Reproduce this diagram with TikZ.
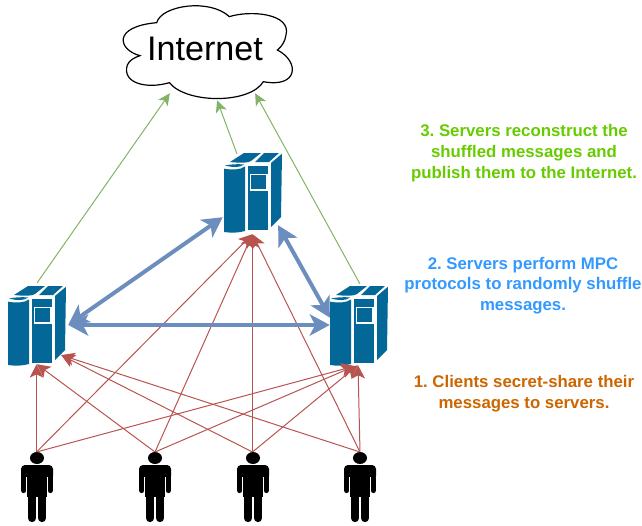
\documentclass[tikz,border=0pt]{standalone}
\usepackage{fontspec}
\setmainfont{Liberation Sans}
\usetikzlibrary{arrows.meta,shapes.geometric}
\definecolor{srvblue}{HTML}{036897}
\definecolor{redl}{HTML}{B85450}
\definecolor{greenl}{HTML}{82B366}
\definecolor{bluel}{HTML}{6C8EBF}
\definecolor{txtgreen}{HTML}{66CC00}
\definecolor{txtblue}{HTML}{3399FF}
\definecolor{txtorange}{HTML}{CC6600}
\tikzset{
  x=.75pt,y=-.75pt,
  redarrow/.style={draw=redl,line width=.75pt,-{Stealth[length=10pt,width=10pt,inset=2.5pt]}},
  greenarrow/.style={draw=greenl,line width=.75pt,-{Stealth[length=9pt,width=8.5pt,inset=2.5pt]}},
  bluearrow/.style={draw=bluel,line width=3pt,{Stealth[length=15pt,width=16pt,inset=4pt]}-{Stealth[length=15pt,width=16pt,inset=4pt]}},
  note/.style={font=\fontsize{12.6pt}{15.6pt}\selectfont\bfseries\frenchspacing,align=center,inner sep=0pt},
  srvbox/.style={inner sep=0pt,minimum width=43.5pt,minimum height=60.75pt},
  port/.style={inner sep=0pt,minimum size=0pt}
}
\newcommand{\serverat}[3]{%
  \node[srvbox] (#1) at (#2+29,#3+40.5) {};
  \begin{scope}[shift={(#2,#3)}]
    \fill[srvblue] (0,16.7) .. controls (8,18) and (16,18) .. (21,14.5) -- (21,79) .. controls (14,81) and (7,81) .. (0,80) -- cycle;
    \fill[srvblue] (24,14) -- (44,14) -- (44,78) -- (24,78) -- cycle;
    \fill[srvblue] (47,11) -- (58,1.7) -- (57,65) -- (47,75) -- cycle;
    \fill[srvblue] (6,10) -- (20,1) -- (37,1) -- (27,9) .. controls (25,11) and (15,11) .. cycle;
    \fill[srvblue] (1,13.5) .. controls (8,12) and (15,12) .. (20,12.5) .. controls (16,16) and (8,15.5) .. cycle;
    \fill[srvblue] (31,10) -- (40,1) -- (55,1) -- (45,10) -- cycle;
    \draw[white,line width=1.1pt] (26.5,22.5) rectangle (43,38);
  \end{scope}}
\newcommand{\personat}[2]{%
  \node[fill=black,ellipse,inner sep=0pt,minimum width=10.5pt,minimum height=9pt] (#1) at (#2,458) {};
  \begin{scope}[shift={(#2,0)}]
    \fill[black,rounded corners=3pt] (-16,465) rectangle (16,480);
    \fill[black] (-10,470) rectangle (10,497);
    \draw[black,line width=3.9pt,line cap=round] (-13.2,472) -- (-13.2,490.5) (13.2,472) -- (13.2,490.5);
    \draw[black,line width=6.2pt,line cap=round] (-5,495) -- (-5,518) (5,495) -- (5,518);
    \draw[white,line width=.5pt] (-10.4,477) -- (-10.4,494) (10.4,477) -- (10.4,494) (0,497) -- (0,522);
  \end{scope}}
\begin{document}
\begin{tikzpicture}
\useasboundingbox (0,0) rectangle (642,525);
% cloud
\begin{scope}[shift={(110,0)},x=.25pt,y=-.25pt]
\filldraw[draw=black,fill=white,line width=.9pt]
  (178,248) .. controls (110,268) and (35,250) .. (52,195)
  .. controls (58,180) and (75,172) .. (90,167)
  .. controls (25,150) and (5,80) .. (140,68)
  .. controls (155,15) and (300,-5) .. (358,50)
  .. controls (420,30) and (545,40) .. (528,105)
  .. controls (525,125) and (515,140) .. (502,150)
  .. controls (570,185) and (565,265) .. (460,245)
  .. controls (420,312) and (230,312) .. (178,248) -- cycle;
\end{scope}
\node[inner sep=0pt,font=\fontsize{25.6pt}{30pt}\selectfont] (net) at (205,49) {Internet};
% servers
\serverat{sL}{8}{285}
\serverat{sC}{224}{152}
\serverat{sR}{330}{285}
% people
\personat{c1}{37}
\personat{c2}{155}
\personat{c3}{253}
\personat{c4}{360}
% ports
\node[port] (netA) at (170,93) {};
\node[port] (netB) at (217,100) {};
\node[port] (netC) at (255,93) {};
\node[port] (gL) at (37,283) {};
\node[port] (gC) at (237,154) {};
\node[port] (gR) at (360,284) {};
\node[port] (rL) at (36.5,364) {};
\node[port] (rL2) at (61,355) {};
\node[port] (rC) at (252.5,234) {};
\node[port] (rR) at (358,365) {};
\node[port] (rR2) at (355,366) {};
\node[port] (p1) at (36.5,452) {};
\node[port] (p2) at (155,452) {};
\node[port] (p3) at (252.5,452) {};
\node[port] (p4) at (360,452) {};
\node[port] (bL1) at (68,325) {};
\node[port] (bR1) at (330,325) {};
\node[port] (bC1) at (223,217) {};
\node[port] (bC2) at (278,225) {};
\node[port] (bR2) at (330,318) {};
% green
\draw[greenarrow] (gL) -- (netA);
\draw[greenarrow] (gC) -- (netB);
\draw[greenarrow] (gR) -- (netC);
% red
\draw[redarrow] (p1) -- (rL);
\draw[redarrow] (p1) -- (rC);
\draw[redarrow] (p1) -- (rR2);
\draw[redarrow] (p2) -- (rL);
\draw[redarrow] (p2) -- (rC);
\draw[redarrow] (p2) -- (rR2);
\draw[redarrow] (p3) -- (rL2);
\draw[redarrow] (p3) -- (rC);
\draw[redarrow] (p3) -- (rR);
\draw[redarrow] (p4) -- (rL2);
\draw[redarrow] (p4) -- (rC);
\draw[redarrow] (p4) -- (rR);
% blue
\draw[bluearrow] (bC1) -- (bL1);
\draw[bluearrow] (bL1) -- (bR1);
\draw[bluearrow] (bC2) -- (bR2);
% text
\node[note,text=txtgreen] (t3) at (524,153) {3. Servers reconstruct the\\shuffled messages and\\publish them to the Internet.};
\node[note,text=txtblue] (t2) at (523,285.5) {2. Servers perform MPC\\protocols to randomly shuffle\\messages.};
\node[note,text=txtorange] (t1) at (524,394) {1. Clients secret-share their\\messages to servers.};
\end{tikzpicture}
\end{document}
